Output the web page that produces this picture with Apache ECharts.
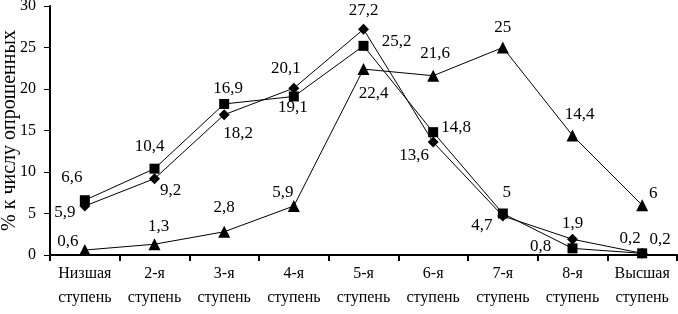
<!DOCTYPE html>
<html>
<head>
<meta charset="utf-8">
<script src="https://cdn.jsdelivr.net/npm/echarts@6/dist/echarts.min.js"></script>
<style>
  html, body { margin: 0; padding: 0; background: #fff; }
  #chart { width: 678px; height: 314px; }
</style>
</head>
<body>
<div id="chart"></div>
<script>
const categories = [
  "Низшая\nступень", "2-я\nступень", "3-я\nступень", "4-я\nступень", "5-я\nступень",
  "6-я\nступень", "7-я\nступень", "8-я\nступень", "Высшая\nступень"
];
const squareValues = [6.6, 10.4, 18.2, 19.1, 25.2, 14.8, 5, 0.8, 0.2];
const diamondValues = [5.9, 9.2, 16.9, 20.1, 27.2, 13.6, 4.7, 1.9, 0.2];
const triangleValues = [0.6, 1.3, 2.8, 5.9, 22.4, 21.6, 25, 14.4, 6];

// label offsets (pixels, relative to marker centre)
const squareOffsets = [[-13, -23], [-5, -22], [14, 30], [-1, 11], [33, -4], [23, -5], [4, -21], [-32, -2], [-12, -15]];
const diamondOffsets = [[-20, 7], [16, 12], [4, -26], [-8, -20], [0, -19], [-19, 13], [-21, 10], [0, -16], [18, -14]];
const triangleOffsets = [[-17, -8], [4, -18], [0, -24], [-11, -13], [10, 24], [2, -22], [0, -20], [7, -21], [11, -12]];

const font = "Liberation Serif";
const fmt = v => String(v).replace(".", ",");

function makeSeries(values, offsets, symbol, size) {
  return {
    type: "line",
    symbol: symbol,
    symbolSize: size,
    itemStyle: { color: "#000" },
    lineStyle: { color: "#000", width: 1 },
    data: values.map((v, i) => ({
      value: v,
      label: { offset: offsets[i] }
    })),
    label: {
      show: true,
      position: "inside",
      color: "#000",
      fontFamily: font,
      fontSize: 17,
      formatter: p => fmt(p.value)
    },
    z: 3
  };
}

const chart = echarts.init(document.getElementById("chart"), null, { renderer: "canvas" });
chart.setOption({
  animation: false,
  backgroundColor: "#fff",
  grid: { left: 50, right: 1, top: 6, bottom: 59, containLabel: false, outerBoundsMode: "none" },
  xAxis: {
    type: "category",
    data: categories,
    boundaryGap: true,
    axisLine: { lineStyle: { color: "#000", width: 2 } },
    axisTick: { show: true, length: 6, inside: false, lineStyle: { color: "#000", width: 2 } },
    axisLabel: {
      color: "#000", fontFamily: font, fontSize: 16, lineHeight: 24, margin: 7, interval: 0
    }
  },
  yAxis: {
    type: "value",
    min: 0, max: 30, interval: 5,
    name: "% к числу опрошенных",
    nameLocation: "middle",
    nameGap: 30,
    nameRotate: 90,
    nameMoveOverlap: false,
    nameTextStyle: { color: "#000", fontFamily: font, fontSize: 20 },
    axisLine: { show: true, lineStyle: { color: "#000", width: 2 } },
    axisTick: { show: true, length: 6, lineStyle: { color: "#000", width: 1 } },
    axisLabel: { color: "#000", fontFamily: font, fontSize: 16, margin: 14 },
    splitLine: { show: false }
  },
  series: [
    makeSeries(squareValues, squareOffsets, "rect", 10),
    makeSeries(diamondValues, diamondOffsets, "diamond", 11),
    makeSeries(triangleValues, triangleOffsets, "triangle", 12)
  ]
});
</script>
</body>
</html>
